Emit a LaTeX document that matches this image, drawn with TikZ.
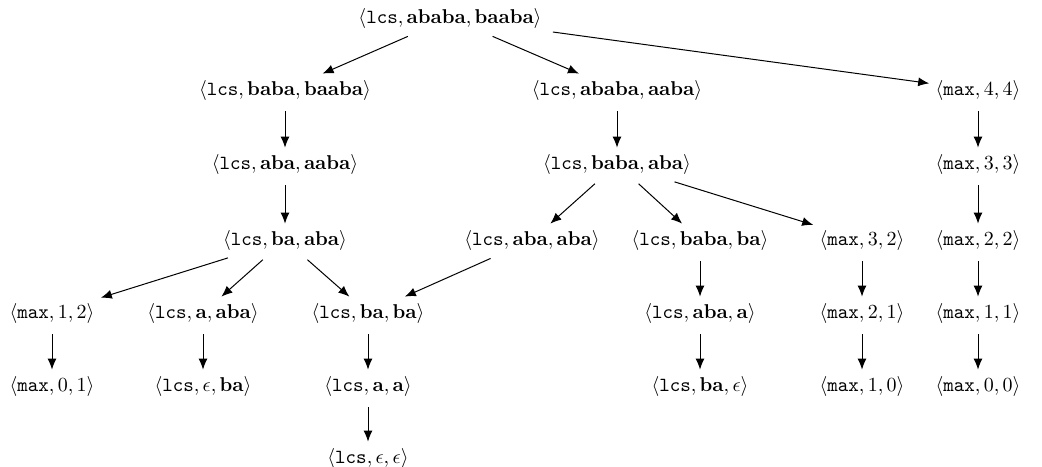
\documentclass[tikz,border=0pt]{standalone}
\usetikzlibrary{arrows.meta}
\newcommand{\tl}[3]{$\langle\texttt{#1},#2,#3\rangle$}
\begin{document}
\begin{tikzpicture}[x=0.5pt,y=-0.5pt,
  st/.style={inner sep=3pt},
  ar/.style={-{Latex[length=5.5pt,width=4.5pt]},line width=0.5pt,shorten <=2.5pt}]
\useasboundingbox (0,0) rectangle (1042,466);
% row 0
\node[st] (r) at (450,18) {\tl{lcs}{\mathbf{ababa}}{\mathbf{baaba}}};
% row 1
\node[st] (a1) at (285,90) {\tl{lcs}{\mathbf{baba}}{\mathbf{baaba}}};
\node[st] (b1) at (617,90) {\tl{lcs}{\mathbf{ababa}}{\mathbf{aaba}}};
\node[st] (c1) at (978,90) {\tl{max}{4}{4}};
% row 2
\node[st] (a2) at (285,164) {\tl{lcs}{\mathbf{aba}}{\mathbf{aaba}}};
\node[st] (b2) at (617,164) {\tl{lcs}{\mathbf{baba}}{\mathbf{aba}}};
\node[st] (c2) at (978,164) {\tl{max}{3}{3}};
% row 3
\node[st] (a3) at (285,240) {\tl{lcs}{\mathbf{ba}}{\mathbf{aba}}};
\node[st] (b3) at (532,240) {\tl{lcs}{\mathbf{aba}}{\mathbf{aba}}};
\node[st] (d3) at (700,240) {\tl{lcs}{\mathbf{baba}}{\mathbf{ba}}};
\node[st] (e3) at (862,240) {\tl{max}{3}{2}};
\node[st] (c3) at (978,240) {\tl{max}{2}{2}};
% row 4
\node[st] (m4) at (52,313) {\tl{max}{1}{2}};
\node[st] (l4) at (203,313) {\tl{lcs}{\mathbf{a}}{\mathbf{aba}}};
\node[st] (k4) at (368,313) {\tl{lcs}{\mathbf{ba}}{\mathbf{ba}}};
\node[st] (d4) at (700,313) {\tl{lcs}{\mathbf{aba}}{\mathbf{a}}};
\node[st] (e4) at (862,313) {\tl{max}{2}{1}};
\node[st] (c4) at (978,313) {\tl{max}{1}{1}};
% row 5
\node[st] (m5) at (52,386) {\tl{max}{0}{1}};
\node[st] (l5) at (203,386) {\tl{lcs}{\epsilon}{\mathbf{ba}}};
\node[st] (k5) at (368,386) {\tl{lcs}{\mathbf{a}}{\mathbf{a}}};
\node[st] (d5) at (700,386) {\tl{lcs}{\mathbf{ba}}{\epsilon}};
\node[st] (e5) at (862,386) {\tl{max}{1}{0}};
\node[st] (c5) at (978,386) {\tl{max}{0}{0}};
% row 6
\node[st] (k6) at (368,458) {\tl{lcs}{\epsilon}{\epsilon}};
% edges
\draw[ar] (r) -- (a1);
\draw[ar] (r) -- (b1);
\draw[ar] (r) -- (c1);
\draw[ar] (a1) -- (a2);
\draw[ar] (a2) -- (a3);
\draw[ar] (b1) -- (b2);
\draw[ar] (c1) -- (c2);
\draw[ar] (c2) -- (c3);
\draw[ar] (c3) -- (c4);
\draw[ar] (c4) -- (c5);
\draw[ar] (b2) -- (b3);
\draw[ar] (b2) -- (d3);
\draw[ar] (b2) -- (e3);
\draw[ar] (a3) -- (m4);
\draw[ar] (a3) -- (l4);
\draw[ar] (a3) -- (k4);
\draw[ar] (b3) -- (k4);
\draw[ar] (d3) -- (d4);
\draw[ar] (d4) -- (d5);
\draw[ar] (e3) -- (e4);
\draw[ar] (e4) -- (e5);
\draw[ar] (m4) -- (m5);
\draw[ar] (l4) -- (l5);
\draw[ar] (k4) -- (k5);
\draw[ar] (k5) -- (k6);
\end{tikzpicture}
\end{document}
